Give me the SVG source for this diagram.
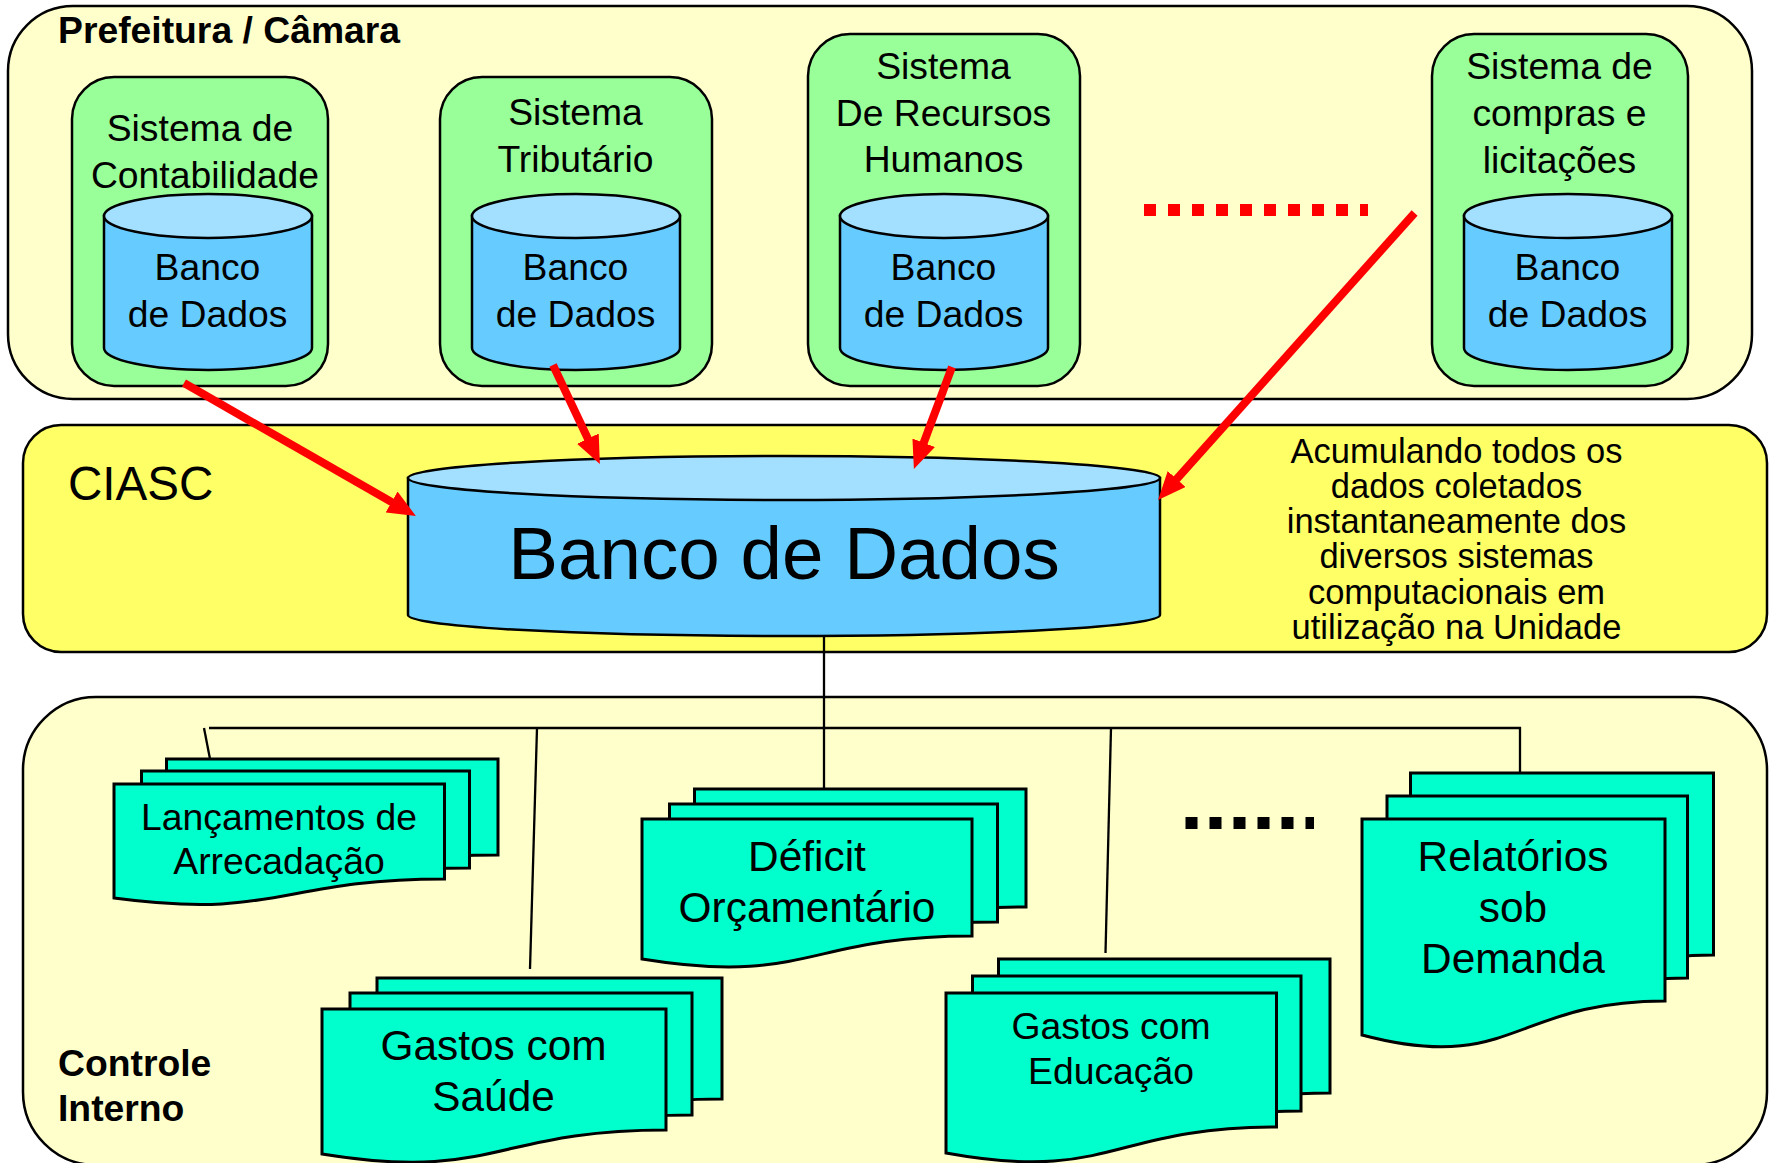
<svg xmlns="http://www.w3.org/2000/svg" width="1770" height="1163" viewBox="0 0 1770 1163">
<style>
text{font-family:"Liberation Sans",Arial,sans-serif;fill:#000;text-anchor:middle}
.b{font-weight:bold;text-anchor:start;font-size:37.3px}
.t37{font-size:37.3px}.t42{font-size:42.4px}.t34{font-size:34.5px}
.panel{stroke:#000;stroke-width:2.5}
.lp{fill:#FFFFCC}.yp{fill:#FFFF66}
.sys{fill:#99FF99;stroke:#000;stroke-width:2.5}
.can{fill:#66CCFF;stroke:#000;stroke-width:2.5}
.lid{fill:#A3E0FF;stroke:#000;stroke-width:2.5}
.doc{fill:#00FFCC;stroke:#000;stroke-width:3}
.wire{fill:none;stroke:#000;stroke-width:2.3}
.red{fill:none;stroke:#FF0000;stroke-width:8;marker-end:url(#ah)}
</style>
<defs>
<marker id="ah" markerUnits="userSpaceOnUse" markerWidth="28" markerHeight="24" refX="12" refY="12" orient="auto"><path d="M0,0L28,12L0,24Z" fill="#FF0000"/></marker>
</defs>
<rect width="1770" height="1163" fill="#fff"/>
<g id="panel-prefeitura">
<rect class="panel lp" x="8" y="6" width="1744" height="393" rx="65" ry="65"/>
<text class="b" x="58" y="43">Prefeitura / Câmara</text>
</g>
<g id="panel-ciasc">
<rect class="panel yp" x="23" y="425" width="1744" height="227" rx="38" ry="38"/>
<text x="68" y="500" font-size="47.6" style="text-anchor:start">CIASC</text>
<text class="t34" x="1456.5" y="463">Acumulando todos os</text>
<text class="t34" x="1456.5" y="498">dados coletados</text>
<text class="t34" x="1456.5" y="533">instantaneamente dos</text>
<text class="t34" x="1456.5" y="568">diversos sistemas</text>
<text class="t34" x="1456.5" y="604">computacionais em</text>
<text class="t34" x="1456.5" y="639">utilização na Unidade</text>
</g>
<g id="panel-controle">
<rect class="panel lp" x="23" y="697" width="1744" height="468" rx="73" ry="73"/>
<text class="b" x="58" y="1076">Controle</text>
<text class="b" x="58" y="1121">Interno</text>
</g>
<g id="sys-contabilidade">
<rect class="sys" x="72" y="77" width="256" height="309" rx="42" ry="42"/>
<text class="t37" x="200" y="141">Sistema de</text>
<text class="t37" x="205" y="188">Contabilidade</text>
<path class="can" d="M104,216V348A104,22 0 0 0 312,348V216Z"/>
<ellipse class="lid" cx="208" cy="216" rx="104" ry="22"/>
<text class="t37" x="207.5" y="280">Banco</text>
<text class="t37" x="207.5" y="327">de Dados</text>
</g>
<g id="sys-tributario">
<rect class="sys" x="440" y="77" width="272" height="309" rx="42" ry="42"/>
<text class="t37" x="575.5" y="125">Sistema</text>
<text class="t37" x="575.5" y="172">Tributário</text>
<path class="can" d="M472,216V348A104,22 0 0 0 680,348V216Z"/>
<ellipse class="lid" cx="576" cy="216" rx="104" ry="22"/>
<text class="t37" x="575.5" y="280">Banco</text>
<text class="t37" x="575.5" y="327">de Dados</text>
</g>
<g id="sys-rh">
<rect class="sys" x="808" y="34" width="272" height="352" rx="42" ry="42"/>
<text class="t37" x="943.5" y="79">Sistema</text>
<text class="t37" x="943.5" y="126">De Recursos</text>
<text class="t37" x="943.5" y="172">Humanos</text>
<path class="can" d="M840,216V348A104,22 0 0 0 1048,348V216Z"/>
<ellipse class="lid" cx="944" cy="216" rx="104" ry="22"/>
<text class="t37" x="943.5" y="280">Banco</text>
<text class="t37" x="943.5" y="327">de Dados</text>
</g>
<g id="sys-compras">
<rect class="sys" x="1432" y="34" width="256" height="352" rx="42" ry="42"/>
<text class="t37" x="1559.5" y="79">Sistema de</text>
<text class="t37" x="1559.5" y="126">compras e</text>
<text class="t37" x="1559.5" y="173">licitações</text>
<path class="can" d="M1464,216V348A104,22 0 0 0 1672,348V216Z"/>
<ellipse class="lid" cx="1568" cy="216" rx="104" ry="22"/>
<text class="t37" x="1567.5" y="280">Banco</text>
<text class="t37" x="1567.5" y="327">de Dados</text>
</g>
<g id="db-central">
<path class="can" d="M408,478V615A376,21 0 0 0 1160,615V478Z"/>
<ellipse class="lid" cx="784" cy="478" rx="376" ry="22"/>
<text x="784" y="579" font-size="74.6">Banco de Dados</text>
</g>
<g id="doc-arrecadacao">
<path class="doc" d="M166.5,759H498V855C332,855 332,891 166.5,872Z"/>
<path class="doc" d="M141.5,771H469.5V868C305,868 305,904 141.5,885Z"/>
<path class="doc" d="M114,784H444.5V879C279,879 279,920 114,898Z"/>
<text class="t37" x="279" y="830">Lançamentos de</text>
<text class="t37" x="279" y="874">Arrecadação</text>
</g>
<g id="doc-deficit">
<path class="doc" d="M694.5,789H1026V907C860,907 860,957 694.5,930Z"/>
<path class="doc" d="M669.5,804H997.5V922C833,922 833,972 669.5,945Z"/>
<path class="doc" d="M642,819H972V936C807,936 807,986 642,959Z"/>
<text class="t42" x="807" y="871">Déficit</text>
<text class="t42" x="807" y="922">Orçamentário</text>
</g>
<g id="doc-saude">
<path class="doc" d="M377,978H722V1099C549,1099 549,1151 377,1123Z"/>
<path class="doc" d="M350,993H692V1115C521,1115 521,1167 350,1139Z"/>
<path class="doc" d="M322,1009H666V1130C494,1130 494,1182 322,1154Z"/>
<text class="t42" x="493.5" y="1060">Gastos com</text>
<text class="t42" x="493.5" y="1111">Saúde</text>
</g>
<g id="doc-educacao">
<path class="doc" d="M998.5,959H1330V1093C1164,1093 1164,1149 998.5,1119Z"/>
<path class="doc" d="M972.5,976H1301V1111C1137,1111 1137,1167 972.5,1137Z"/>
<path class="doc" d="M946,993H1276.5V1127C1111,1127 1111,1183 946,1153Z"/>
<text class="t37" x="1111" y="1039">Gastos com</text>
<text class="t37" x="1111" y="1084">Educação</text>
</g>
<g id="doc-relatorios">
<path class="doc" d="M1410.5,773H1713.5V955C1563,955 1563,1029 1410.5,989Z"/>
<path class="doc" d="M1387,796H1687.5V978C1538,978 1538,1052 1387,1012Z"/>
<path class="doc" d="M1362,819H1665V1001C1513,1001 1513,1075 1362,1035Z"/>
<text class="t42" x="1513" y="871">Relatórios</text>
<text class="t42" x="1513" y="922">sob</text>
<text class="t42" x="1513" y="973">Demanda</text>
</g>
<g id="connectors">
<path class="wire" d="M824,637V789"/>
<path class="wire" d="M209,728H1520V773"/>
<path class="wire" d="M204,728L210,759"/>
<path class="wire" d="M537,728L530,969"/>
<path class="wire" d="M1111,728L1105.5,953"/>
<path class="red" d="M184,383L402,508"/>
<path class="red" d="M553,365L593,449.5"/>
<path class="red" d="M952,367L919.5,454"/>
<path class="red" d="M1414.6,213L1168.7,488"/>
<path fill="none" stroke="#FF0000" stroke-width="12" stroke-dasharray="12 12" d="M1144,210H1368"/>
<path fill="none" stroke="#000" stroke-width="12" stroke-dasharray="12 12" d="M1185.5,823H1314"/>
</g>
</svg>
